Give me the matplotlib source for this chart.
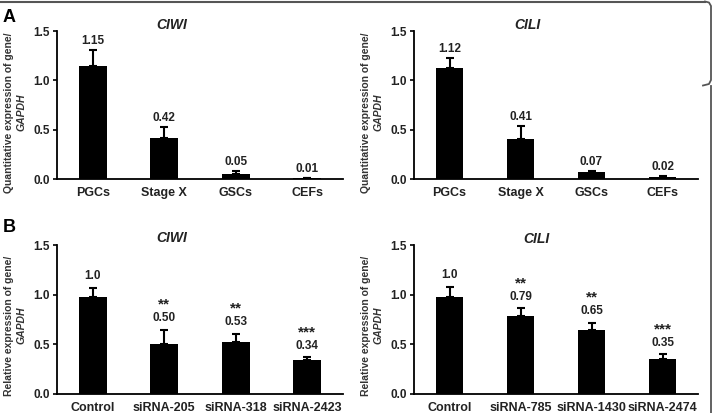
import matplotlib
matplotlib.use("Agg")
import matplotlib.pyplot as plt
from matplotlib.lines import Line2D

plt.rcParams['font.family'] = ['Liberation Sans', 'DejaVu Sans']

# panel A: expression in cell types
cells = ["PGCs", "Stage X", "GSCs", "CEFs"]
ciwi_a = [1.15, 0.42, 0.05, 0.01]
ciwi_a_err = [0.16, 0.11, 0.03, 0.005]
ciwi_a_lbl = ["1.15", "0.42", "0.05", "0.01"]
cili_a = [1.12, 0.41, 0.07, 0.02]
cili_a_err = [0.11, 0.13, 0.01, 0.01]
cili_a_lbl = ["1.12", "0.41", "0.07", "0.02"]

# panel B: siRNA knockdown
ciwi_si = ["Control", "siRNA-205", "siRNA-318", "siRNA-2423"]
ciwi_b = [0.98, 0.50, 0.52, 0.345]
ciwi_b_err = [0.09, 0.145, 0.085, 0.025]
ciwi_b_lbl = ["1.0", "0.50", "0.53", "0.34"]
ciwi_b_sig = ["", "**", "**", "***"]
cili_si = ["Control", "siRNA-785", "siRNA-1430", "siRNA-2474"]
cili_b = [0.98, 0.785, 0.645, 0.35]
cili_b_err = [0.10, 0.08, 0.07, 0.05]
cili_b_lbl = ["1.0", "0.79", "0.65", "0.35"]
cili_b_sig = ["", "**", "**", "***"]

W, H = 715, 413
fig = plt.figure(figsize=(W / 100, H / 100), dpi=100)


def px_axes(x0, x1, ytop, ybot):
    return fig.add_axes([x0 / W, 1 - ybot / H, (x1 - x0) / W, (ybot - ytop) / H])


def draw(ax, cats, vals, errs, lbls, sig, title, ylab, lbl_off, title_x, title_y, lab_y):
    x = range(len(cats))
    ax.bar(x, vals, width=0.39, color="black", zorder=2)
    ax.errorbar(x, vals, yerr=[[0] * len(vals), errs], fmt="none",
                ecolor="black", elinewidth=1.5, capsize=3, capthick=1.5, zorder=3)
    for i in x:
        top = vals[i] + errs[i]
        ax.annotate(lbls[i], (i, top), xytext=(0, lbl_off), textcoords="offset points",
                    ha="center", va="bottom", fontsize=8.5, fontweight="bold", color="#222222")
        if sig and sig[i]:
            ax.annotate(sig[i], (i, top), xytext=(0, lbl_off + 9), textcoords="offset points",
                        ha="center", va="bottom", fontsize=11, fontweight="bold", color="#222222")
    ax.set_xlim(-0.5, 3.5)
    ax.set_ylim(0, 1.5)
    ax.set_yticks([0, 0.5, 1.0, 1.5])
    ax.set_yticklabels(["0.0", "0.5", "1.0", "1.5"])
    ax.set_xticks(list(x))
    ax.set_xticklabels(cats)
    for s in ["top", "right"]:
        ax.spines[s].set_visible(False)
    for s in ["left", "bottom"]:
        ax.spines[s].set_linewidth(1.3)
    ax.tick_params(axis="y", length=3, width=1.2, labelsize=8.5, pad=2)
    ax.tick_params(axis="x", length=0, labelsize=9, pad=6)
    for t in ax.get_yticklabels() + ax.get_xticklabels():
        t.set_fontweight("bold")
        t.set_color("#222222")
    ax.text(title_x, title_y, title, transform=ax.transAxes, ha="center", va="center",
            fontsize=10, fontweight="bold", fontstyle="italic", color="#222222")
    ax.text(-0.168, lab_y, ylab, transform=ax.transAxes, rotation=90, ha="center", va="center",
            fontsize=7.5, fontweight="bold", color="#333333")
    ax.text(-0.125, lab_y, "GAPDH", transform=ax.transAxes, rotation=90, ha="center", va="center",
            fontsize=7.5, fontweight="bold", fontstyle="italic", color="#333333")


ax1 = px_axes(57, 343, 31, 179)
draw(ax1, cells, ciwi_a, ciwi_a_err, ciwi_a_lbl, None, "CIWI",
     "Quantitative expression of gene/", 2, 0.40, 1.04, 0.45)
ax2 = px_axes(414, 698, 31, 179)
draw(ax2, cells, cili_a, cili_a_err, cili_a_lbl, None, "CILI",
     "Quantitative expression of gene/", 2, 0.40, 1.04, 0.45)
ax3 = px_axes(57, 343, 245, 394)
draw(ax3, ciwi_si, ciwi_b, ciwi_b_err, ciwi_b_lbl, ciwi_b_sig, "CIWI",
     "Relative expression of gene/", 4, 0.40, 1.05, 0.46)
ax4 = px_axes(414, 698, 245, 394)
draw(ax4, cili_si, cili_b, cili_b_err, cili_b_lbl, cili_b_sig, "CILI",
     "Relative expression of gene/", 4, 0.43, 1.04, 0.46)

fig.text(3 / W, 1 - 17 / H, "A", fontsize=13, fontweight="bold", va="center", ha="left")
fig.text(3 / W, 1 - 228 / H, "B", fontsize=13, fontweight="bold", va="center", ha="left")

# frame of the screenshot
edge = "#555555"
fig.add_artist(Line2D([0, 705 / W], [1 - 1.5 / H, 1 - 1.5 / H], color=edge, lw=1.5))
fig.add_artist(Line2D([705 / W, 709 / W, 711 / W, 711 / W, 709 / W, 703 / W],
                      [1 - 1.5 / H, 1 - 2.5 / H, 1 - 6 / H, 1 - 80 / H, 1 - 84 / H, 1 - 85.5 / H],
                      color=edge, lw=1.3))
fig.add_artist(Line2D([711 / W, 711 / W], [1 - 86 / H, 0], color=edge, lw=1.3))

fig.savefig("out.png", dpi=100)
